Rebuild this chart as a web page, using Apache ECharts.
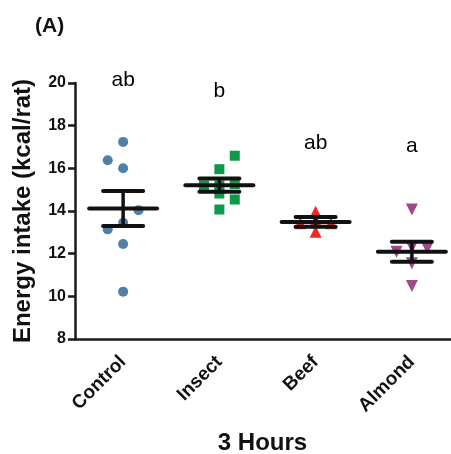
<!DOCTYPE html>
<html>
<head>
<meta charset="utf-8">
<script src="https://cdn.jsdelivr.net/npm/echarts@6/dist/echarts.min.js"></script>
<style>html,body{margin:0;padding:0;background:#fff;}#c{width:451px;height:454px;}</style>
</head>
<body>
<div id="c"></div>
<script>
var categories = ['Control', 'Insect', 'Beef', 'Almond'];
var yTicks = [8, 10, 12, 14, 16, 18, 20];

var controlValues = [17.24, 16.38, 16.0, 14.04, 13.45, 13.14, 12.45, 10.22];
var controlJitter = [0, -0.16, 0, 0.16, 0, -0.16, 0, 0];
var insectValues = [16.59, 15.96, 15.2, 15.26, 15.2, 14.82, 14.54, 14.07];
var insectJitter = [0.16, 0, -0.16, 0.16, 0, 0, 0.16, 0];
var beefValues = [13.96, 13.42, 13.55, 13.5, 13.42, 13.03];
var beefJitter = [0, -0.16, 0, 0, 0.16, 0];
var almondValues = [14.07, 12.25, 12.3, 12.09, 11.55, 10.48];
var almondJitter = [0, 0.16, 0, -0.16, 0, 0];

var means = [14.12, 15.21, 13.49, 12.09];
var sems = [0.82, 0.31, 0.23, 0.47];

var letters = ['ab', 'b', 'ab', 'a'];
var letterY = [20.15, 19.62, 17.2, 17.06];

var colors = ['#4f80a7', '#0c9a48', '#ec2b25', '#a1478c'];
var symbols = ['circle', 'rect', 'triangle', 'triangle'];
var symbolSizes = [10, 10, 12, 12];
var symbolRotates = [0, 0, 0, 180];

var groupValues = [controlValues, insectValues, beefValues, almondValues];
var groupJitter = [controlJitter, insectJitter, beefJitter, almondJitter];

var font = 'Liberation Sans, Arial, Helvetica, sans-serif';

var series = [];
groupValues.forEach(function (vals, gi) {
  series.push({
    type: 'scatter',
    xAxisIndex: 1,
    symbol: symbols[gi],
    symbolSize: symbolSizes[gi],
    symbolRotate: symbolRotates[gi],
    itemStyle: { color: colors[gi], opacity: 1 },
    z: 2,
    data: vals.map(function (v, i) { return [gi + groupJitter[gi][i], v]; })
  });
});

series.push({
  type: 'custom',
  xAxisIndex: 1,
  z: 5,
  data: means.map(function (m, i) { return [i, m, sems[i]]; }),
  renderItem: function (params, api) {
    var x = api.value(0), m = api.value(1), s = api.value(2);
    var pm = api.coord([x, m]);
    var pu = api.coord([x, m + s]);
    var pl = api.coord([x, m - s]);
    var halfMean = 34, halfCap = 20;
    var st = { stroke: '#111', lineWidth: 4, lineCap: 'round' };
    return {
      type: 'group',
      children: [
        { type: 'line', shape: { x1: pu[0], y1: pu[1], x2: pl[0], y2: pl[1] }, style: { stroke: '#111', lineWidth: 3.5 } },
        { type: 'line', shape: { x1: pm[0] - halfMean, y1: pm[1], x2: pm[0] + halfMean, y2: pm[1] }, style: st },
        { type: 'line', shape: { x1: pu[0] - halfCap, y1: pu[1], x2: pu[0] + halfCap, y2: pu[1] }, style: st },
        { type: 'line', shape: { x1: pl[0] - halfCap, y1: pl[1], x2: pl[0] + halfCap, y2: pl[1] }, style: st }
      ]
    };
  }
});

series.push({
  type: 'scatter',
  xAxisIndex: 1,
  symbolSize: 1,
  itemStyle: { opacity: 0 },
  clip: false,
  silent: true,
  data: letters.map(function (t, i) { return { value: [i, letterY[i]], name: t }; }),
  label: {
    show: true,
    position: 'inside',
    formatter: function (p) { return p.name; },
    fontSize: 21,
    fontFamily: font,
    color: '#000',
    opacity: 1,
    textBorderWidth: 0
  }
});

var option = {
  animation: false,
  backgroundColor: '#fff',
  title: {
    text: '(A)',
    left: 30,
    top: 11,
    textStyle: { fontSize: 21, fontWeight: 'bold', fontFamily: font, color: '#111' }
  },
  grid: { left: 75, top: 83, width: 385, height: 256, containLabel: false, outerBoundsMode: 'none' },
  xAxis: [
    {
      type: 'category',
      data: categories,
      boundaryGap: true,
      axisLine: { lineStyle: { color: '#1a1a1a', width: 2.5 } },
      axisTick: { alignWithLabel: true, length: 7, lineStyle: { color: '#1a1a1a', width: 2.5 } },
      axisLabel: { rotate: 45, fontSize: 19, fontWeight: 'bold', fontFamily: font, color: '#111', margin: 20 },
      splitLine: { show: false },
      name: '3 Hours',
      nameLocation: 'middle',
      nameGap: 92,
      nameTextStyle: { fontSize: 24, fontWeight: 'bold', fontFamily: font, color: '#111', padding: [0, 10, 0, 0] }
    },
    { type: 'value', min: -0.5, max: 3.5, show: false }
  ],
  yAxis: {
    type: 'value',
    min: yTicks[0],
    max: yTicks[yTicks.length - 1],
    interval: 2,
    axisLine: { show: true, onZero: false, lineStyle: { color: '#1a1a1a', width: 2.5 } },
    axisTick: { show: true, length: 7, lineStyle: { color: '#1a1a1a', width: 2.5 } },
    axisLabel: { fontSize: 16, fontWeight: 'bold', fontFamily: font, color: '#111', margin: 9 },
    splitLine: { show: false },
    name: 'Energy intake (kcal/rat)',
    nameLocation: 'middle',
    nameGap: 40,
    nameTextStyle: { fontSize: 24, fontWeight: 'bold', fontFamily: font, color: '#111' }
  },
  series: series
};

var chart = echarts.init(document.getElementById('c'), null, { renderer: 'canvas' });
chart.setOption(option);
</script>
</body>
</html>
